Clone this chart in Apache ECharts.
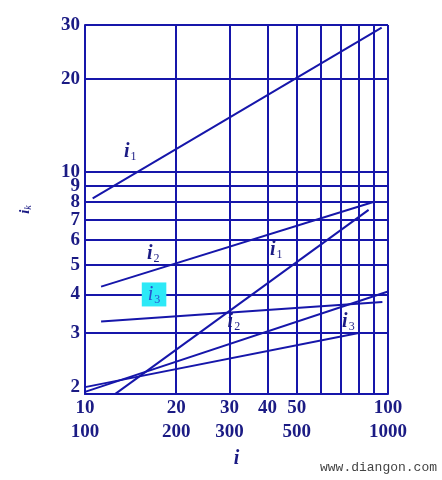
<!DOCTYPE html>
<html>
<head>
<meta charset="utf-8">
<script src="https://cdn.jsdelivr.net/npm/echarts@6/dist/echarts.min.js"></script>
<style>
  html, body { margin: 0; padding: 0; background: #fff; }
  #chart { width: 442px; height: 480px; }
</style>
</head>
<body>
<div id="chart"></div>
<script>
// x grid / labels (log axis 10..100, second row is the x10 scale)
const xGrid = [10, 20, 30, 40, 50, 60, 70, 80, 90, 100];
const xLabelVals = [10, 20, 30, 40, 50, 100];
const xLabelTop = ['10', '20', '30', '40', '50', '100'];
const xLabelBottom = ['100', '200', '300', '', '500', '1000'];

// y grid / labels (log axis)
const yGrid = [3, 4, 5, 6, 7, 8, 9, 10, 20, 30];
const yLabelVals = [2, 3, 4, 5, 6, 7, 8, 9, 10, 20, 30];

// lines: [x, y] start and end
const i1Upper = [[10.6, 8.2], [95.3, 29.4]];
const i2Upper = [[11.3, 4.24], [90, 8.0]];
const i1Lower = [[12.4, 1.88], [86.3, 7.53]];
const i3Upper = [[11.3, 3.27], [95.8, 3.78]];
const i2Lower = [[10, 1.93], [100, 4.09]];
const i3Lower = [[10, 2.0], [80, 3.0]];

// curve labels: [x, y, subscript]
const curveLabels = [
  [14.1, 11.6, '1'],
  [42.8, 5.58, '1'],
  [16.8, 5.40, '2'],
  [31.0, 3.25, '2'],
  [74, 3.25, '3']
];
const boxedLabel = [[16.9, 4.0, '3']];

const blue = '#1616aa';
const navy = '#1b1b84';
const font = 'Liberation Serif';

let chart = echarts.init(document.getElementById('chart'));

function lineSeries(data) {
  return {
    type: 'line',
    data: data,
    symbol: 'none',
    clip: true,
    silent: true,
    lineStyle: { color: blue, width: 2 }
  };
}

const labelRich = {
  i: { fontFamily: font, fontStyle: 'italic', fontWeight: 'bold', fontSize: 20, color: navy },
  s: { fontFamily: font, fontSize: 12, color: navy, padding: [10, 0, 0, 1] }
};

chart.setOption({
  animation: false,
  grid: { left: 85, right: 54, top: 25, bottom: 86 },
  xAxis: {
    type: 'log',
    logBase: 10,
    min: 10,
    max: 100,
    name: 'i',
    nameLocation: 'middle',
    nameGap: 51,
    nameTextStyle: { fontFamily: font, fontStyle: 'italic', fontWeight: 'bold', fontSize: 20, color: navy },
    axisLine: { show: true, lineStyle: { color: blue, width: 2 } },
    axisTick: { show: false, customValues: xGrid },
    splitLine: { show: true, lineStyle: { color: blue, width: 2 } },
    axisLabel: {
      customValues: xLabelVals,
      margin: 2,
      lineHeight: 24,
      fontFamily: font,
      fontWeight: 'bold',
      fontSize: 19,
      color: navy,
      formatter: function (v) {
        let k = xLabelVals.findIndex(function (x) { return Math.abs(x - v) < 1e-6; });
        if (k < 0) return '';
        return xLabelTop[k] + '\n' + xLabelBottom[k];
      }
    }
  },
  yAxis: {
    type: 'log',
    logBase: 10,
    min: 1.9,
    max: 30,
    name: '{i|i}{k|k}',
    nameLocation: 'middle',
    nameRotate: 90,
    nameGap: 52,
    nameTextStyle: {
      rich: {
        i: { fontFamily: font, fontStyle: 'italic', fontWeight: 'bold', fontSize: 15, color: navy },
        k: { fontFamily: font, fontStyle: 'italic', fontSize: 10, color: navy, padding: [6, 0, 0, 0] }
      }
    },
    axisLine: { show: true, lineStyle: { color: blue, width: 2 } },
    axisTick: { show: false, customValues: yGrid },
    splitLine: { show: true, lineStyle: { color: blue, width: 2 } },
    axisLabel: {
      customValues: yLabelVals,
      margin: 5,
      fontFamily: font,
      fontWeight: 'bold',
      fontSize: 19,
      color: navy,
      formatter: function (v) { return String(Math.round(v)); }
    }
  },
  series: [
    lineSeries(i1Upper),
    lineSeries(i2Upper),
    lineSeries(i1Lower),
    lineSeries(i3Upper),
    lineSeries(i2Lower),
    lineSeries(i3Lower),
    {
      type: 'scatter',
      data: curveLabels,
      symbolSize: 0,
      silent: true,
      itemStyle: { opacity: 1 },
      label: {
        show: true,
        position: 'inside',
        formatter: function (p) { return '{i|i}{s|' + p.data[2] + '}'; },
        rich: labelRich
      }
    },
    {
      type: 'scatter',
      data: boxedLabel,
      symbolSize: 0,
      silent: true,
      itemStyle: { opacity: 1 },
      label: {
        show: true,
        position: 'inside',
        backgroundColor: '#2de9f7',
        padding: [1, 6, 1, 6],
        formatter: function (p) { return '{i|i}{s|' + p.data[2] + '}'; },
        rich: {
          i: { fontFamily: font, fontStyle: 'italic', fontSize: 20, color: '#2a4fd0' },
          s: { fontFamily: font, fontSize: 12, color: '#2a4fd0', padding: [10, 0, 0, 1] }
        }
      }
    }
  ],
  graphic: [{
    type: 'text',
    right: 5,
    bottom: 6,
    style: { text: 'www.diangon.com', font: '13px "Liberation Mono"', fill: '#444' }
  }]
});
</script>
</body>
</html>
